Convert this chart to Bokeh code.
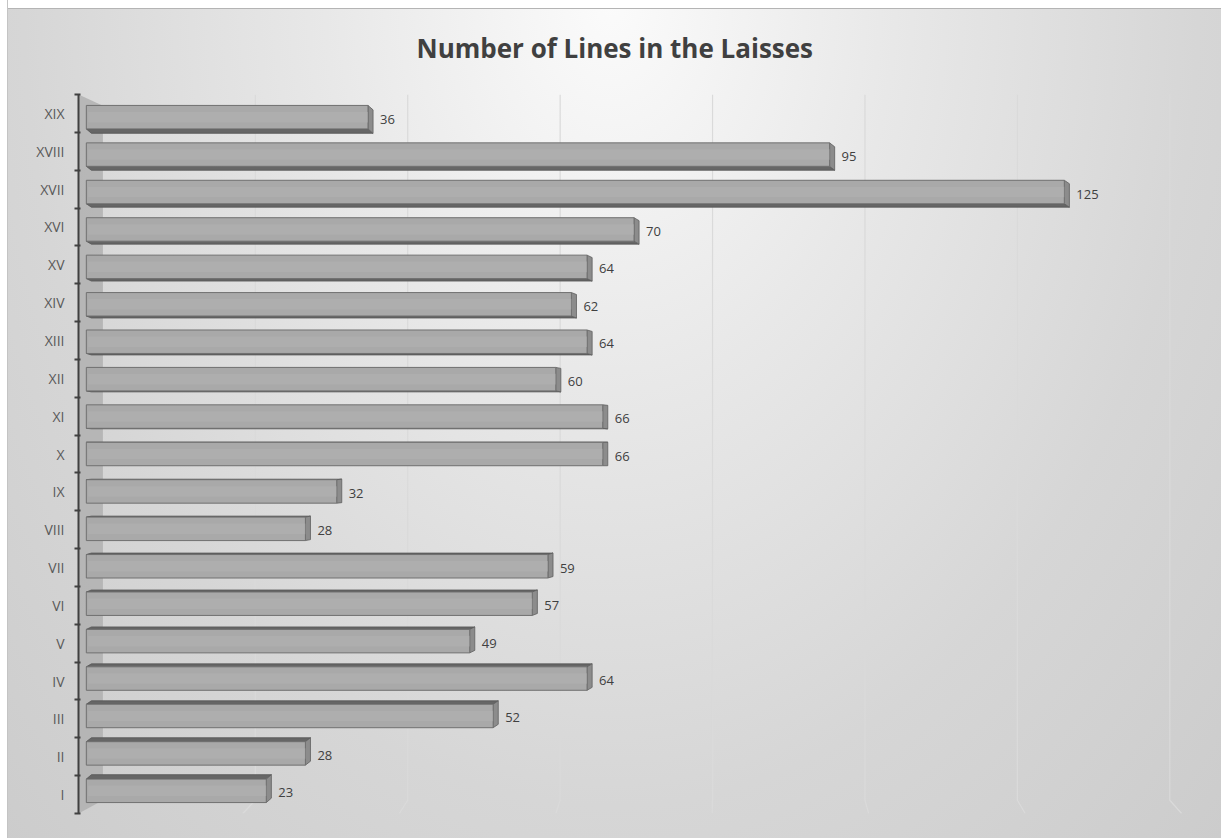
from bokeh.plotting import figure
from bokeh.models import ColumnDataSource, FixedTicker, Range1d
from bokeh.embed import file_html
from bokeh.resources import INLINE
from bokeh.core.properties import value

# ---------------- data ----------------
categories = ["I", "II", "III", "IV", "V", "VI", "VII", "VIII", "IX", "X",
              "XI", "XII", "XIII", "XIV", "XV", "XVI", "XVII", "XVIII", "XIX"]
lines = [23, 28, 52, 64, 49, 57, 59, 28, 32, 66, 66, 60, 64, 62, 64, 70, 125, 95, 36]
grid_ticks = [20, 40, 60, 80, 100, 120, 140]
title_text = "Number of Lines in the Laisses"

# ---------------- styling constants (3D look) ----------------
X_START, X_END = -1.0, 141.0
Y_START, Y_END = 0.5, 19.5
BAR_H = 0.62          # front face thickness (category units)
DEPTH_X = 0.65        # depth of bars along value axis
DEPTH_Y = 0.013       # perspective shift of bar back per category from centre
PERSP = 0.011         # perspective shift of bar front per category from centre
BACK_X0 = 2.12        # back wall zero (in value units)
BACK_SCALE = 0.974    # back wall scale
FLOOR_Y = 0.85

pos = list(range(1, len(categories) + 1))
mid = (pos[0] + pos[-1]) / 2.0
bar_y = [i - (i - mid) * PERSP for i in pos]

p = figure(width=1221, height=838, output_backend="svg", toolbar_location=None,
           x_range=Range1d(X_START, X_END), y_range=Range1d(Y_START, Y_END),
           min_border_left=78, min_border_right=32, min_border_top=94,
           min_border_bottom=25)

p.background_fill_color = None
p.border_fill_color = None
p.outline_line_color = None
p.styles = {
    "background": (
        "linear-gradient(to right, #ffffff 0px, #ffffff 7px, #c4c4c4 7px, #c4c4c4 8px, rgba(255,255,255,0) 8px),"
        "linear-gradient(to bottom, #ffffff 0px, #ffffff 8px, #b4b4b4 8px, #b4b4b4 9px, rgba(255,255,255,0) 9px),"
        "radial-gradient(ellipse farthest-corner at 50% 0%, #fbfbfb 0%, #e8e8e8 33%, #d6d6d6 68%, #cccccc 100%)"
    )
}

# title
p.title.text = title_text
p.title.text_font = "Open Sans"
p.title.text_font_style = "bold"
p.title.text_font_size = "26px"
p.title.text_color = "#404040"
p.title.align = "left"
p.title.vertical_align = "top"
p.title.offset = 338
p.title.standoff = 53

# axes
p.xaxis.visible = False
p.xgrid.visible = False
p.ygrid.visible = False
yax = p.yaxis[0]
yax.ticker = FixedTicker(ticks=pos, minor_ticks=[v - 0.5 for v in pos] + [pos[-1] + 0.5])
yax.major_label_overrides = {k: c for k, c in zip(pos, categories)}
yax.major_tick_line_color = None
yax.minor_tick_line_color = "#404040"
yax.minor_tick_line_width = 2
yax.minor_tick_out = 4
yax.minor_tick_in = 2
yax.axis_line_color = "#404040"
yax.axis_line_width = 2
yax.major_label_text_font = "Open Sans"
yax.major_label_text_font_size = "14px"
yax.major_label_text_color = "#595959"
yax.major_label_standoff = 8

# side wall band
p.patch(x=[X_START, BACK_X0, BACK_X0, X_START],
        y=[Y_END, Y_END - 0.3, FLOOR_Y, Y_START],
        fill_color="#b0b0b0", fill_alpha=0.85, line_color=None)

# back wall grid lines with floor return
gxs, gys = [], []
for t in grid_ticks:
    b = BACK_X0 + BACK_SCALE * t
    gxs.append([b, b, t])
    gys.append([Y_END, FLOOR_Y, Y_START])
p.multi_line(xs=gxs, ys=gys, line_color="#dadada", line_width=1.2)

# 3D faces
hx, hy, rx, ry = [], [], [], []
for i, yc, v in zip(pos, bar_y, lines):
    dy = -(i - mid) * DEPTH_Y
    y0, y1 = yc - BAR_H / 2, yc + BAR_H / 2
    ye = y0 if dy < 0 else y1
    hx.append([0, v, v + DEPTH_X, DEPTH_X])
    hy.append([ye, ye, ye + dy, ye + dy])
    rx.append([v, v, v + DEPTH_X, v + DEPTH_X])
    ry.append([y0, y1, y1 + dy, y0 + dy])

p.patches(xs=hx, ys=hy, fill_color="#666666", line_color="#555555", line_width=0.8)
p.patches(xs=rx, ys=ry, fill_color="#8c8c8c", line_color="#606060", line_width=0.8)

src = ColumnDataSource(dict(y=bar_y, v=lines, label=[str(v) for v in lines], cat=categories))
p.hbar(y="y", left=0, right="v", height=BAR_H, source=src,
       fill_color="#a9a9a9", line_color="#707070", line_width=1)
p.hbar(y="y", left=0.25, right="v", height=BAR_H * 0.45, source=src,
       fill_color="#b4b4b4", fill_alpha=0.5, line_color=None)

p.text(x="v", y="y", text="label", source=src, x_offset=12, y_offset=2,
       text_baseline="middle", text_align="left",
       text_font=value("Open Sans"), text_font_size="13px", text_color="#404040")

open("out.html", "w").write(file_html(p, INLINE))
